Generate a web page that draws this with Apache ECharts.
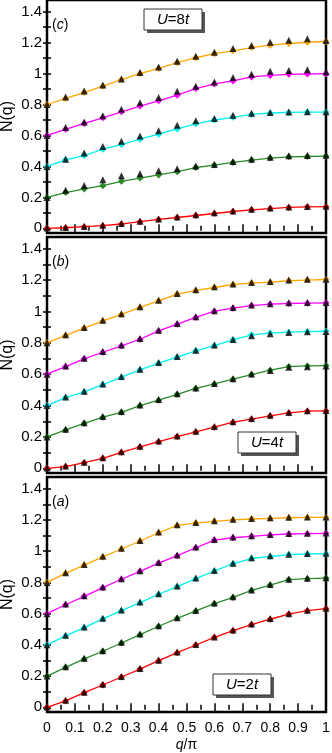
<!DOCTYPE html>
<html>
<head>
<meta charset="utf-8">
<title>N(q)</title>
<script src="https://cdn.jsdelivr.net/npm/echarts@6/dist/echarts.min.js"></script>
<style>
html,body{margin:0;padding:0;background:#fff;}
#main{width:332px;height:753px;}
</style>
</head>
<body>
<div id="main"></div>
<script>
// momentum q/pi, 16 points
var qVals = [0, 0.0667, 0.1333, 0.2, 0.2667, 0.3333, 0.4, 0.4667, 0.5333, 0.6, 0.6667, 0.7333, 0.8, 0.8667, 0.9333, 1];
var yTicks = [0, 0.1, 0.2, 0.3, 0.4, 0.5, 0.6, 0.7, 0.8, 0.9, 1, 1.1, 1.2, 1.3, 1.4];
var yLabels = [0, 0.2, 0.4, 0.6, 0.8, 1, 1.2, 1.4];

// (c) U=8t
var u8Red      = [0, 0.004, 0.011, 0.017, 0.028, 0.043, 0.058, 0.07, 0.083, 0.096, 0.109, 0.12, 0.128, 0.135, 0.139, 0.14];
var u8RedTri   = [0.002, 0.006, 0.012, 0.02, 0.031, 0.046, 0.061, 0.074, 0.088, 0.1, 0.112, 0.123, 0.131, 0.138, 0.141, 0.142];
var u8Green    = [0.2, 0.231, 0.255, 0.276, 0.304, 0.325, 0.345, 0.366, 0.393, 0.409, 0.426, 0.441, 0.454, 0.462, 0.464, 0.466];
var u8GreenTri = [0.2, 0.246, 0.277, 0.314, 0.34, 0.353, 0.372, 0.385, 0.402, 0.413, 0.432, 0.447, 0.46, 0.469, 0.47, 0.473];
var u8Cyan     = [0.4, 0.443, 0.47, 0.511, 0.541, 0.576, 0.608, 0.642, 0.675, 0.7, 0.717, 0.736, 0.745, 0.749, 0.751, 0.751];
var u8CyanTri  = [0.4, 0.447, 0.486, 0.528, 0.563, 0.597, 0.631, 0.666, 0.695, 0.71, 0.73, 0.743, 0.749, 0.751, 0.753, 0.753];
var u8Mag      = [0.6, 0.64, 0.678, 0.714, 0.753, 0.79, 0.824, 0.86, 0.903, 0.933, 0.952, 0.978, 0.988, 0.995, 0.997, 0.999];
var u8MagTri   = [0.6, 0.651, 0.687, 0.727, 0.77, 0.811, 0.845, 0.886, 0.918, 0.945, 0.974, 0.995, 1.014, 1.02, 1.025, 1.01];
var u8Orange   = [0.8, 0.839, 0.877, 0.918, 0.961, 1.0, 1.033, 1.07, 1.102, 1.128, 1.147, 1.168, 1.183, 1.194, 1.202, 1.207];
var u8OrangeTri= [0.8, 0.849, 0.888, 0.926, 0.965, 1.006, 1.042, 1.08, 1.112, 1.138, 1.162, 1.181, 1.202, 1.215, 1.224, 1.213];

// (b) U=4t
var u4Red      = [0, 0.011, 0.036, 0.064, 0.102, 0.136, 0.17, 0.202, 0.232, 0.262, 0.294, 0.313, 0.334, 0.353, 0.364, 0.366];
var u4RedTri   = [0.002, 0.014, 0.039, 0.068, 0.106, 0.14, 0.174, 0.206, 0.236, 0.266, 0.297, 0.317, 0.338, 0.356, 0.367, 0.368];
var u4Green    = [0.2, 0.245, 0.287, 0.326, 0.357, 0.4, 0.434, 0.472, 0.509, 0.538, 0.568, 0.598, 0.626, 0.649, 0.653, 0.655];
var u4GreenTri = [0.2, 0.249, 0.291, 0.331, 0.362, 0.404, 0.438, 0.476, 0.512, 0.541, 0.571, 0.601, 0.624, 0.644, 0.648, 0.652];
var u4Cyan     = [0.4, 0.451, 0.487, 0.534, 0.581, 0.628, 0.67, 0.709, 0.749, 0.783, 0.819, 0.851, 0.862, 0.868, 0.872, 0.874];
var u4CyanTri  = [0.4, 0.455, 0.492, 0.538, 0.586, 0.632, 0.674, 0.713, 0.752, 0.786, 0.822, 0.846, 0.858, 0.866, 0.87, 0.872];
var u4Mag      = [0.6, 0.649, 0.698, 0.74, 0.781, 0.823, 0.876, 0.919, 0.962, 1.002, 1.021, 1.038, 1.047, 1.051, 1.053, 1.055];
var u4MagTri   = [0.6, 0.653, 0.702, 0.745, 0.786, 0.828, 0.881, 0.923, 0.966, 1.005, 1.025, 1.042, 1.05, 1.055, 1.057, 1.057];
var u4Orange   = [0.8, 0.847, 0.894, 0.94, 0.981, 1.026, 1.068, 1.111, 1.134, 1.153, 1.172, 1.181, 1.187, 1.196, 1.2, 1.204];
var u4OrangeTri= [0.8, 0.851, 0.898, 0.944, 0.985, 1.03, 1.072, 1.115, 1.138, 1.157, 1.175, 1.185, 1.192, 1.2, 1.206, 1.205];

// (a) U=2t
var u2Red      = [0, 0.041, 0.094, 0.143, 0.194, 0.245, 0.299, 0.35, 0.399, 0.448, 0.491, 0.53, 0.564, 0.597, 0.619, 0.632];
var u2RedTri   = [0.002, 0.045, 0.097, 0.147, 0.198, 0.249, 0.302, 0.354, 0.403, 0.451, 0.495, 0.534, 0.568, 0.6, 0.622, 0.634];
var u2Green    = [0.2, 0.256, 0.31, 0.359, 0.412, 0.465, 0.519, 0.57, 0.617, 0.664, 0.704, 0.749, 0.783, 0.818, 0.824, 0.828];
var u2GreenTri = [0.2, 0.26, 0.314, 0.363, 0.416, 0.469, 0.522, 0.573, 0.62, 0.668, 0.708, 0.752, 0.786, 0.82, 0.827, 0.83];
var u2Cyan     = [0.4, 0.457, 0.51, 0.566, 0.619, 0.67, 0.724, 0.773, 0.824, 0.873, 0.92, 0.953, 0.966, 0.978, 0.982, 0.984];
var u2CyanTri  = [0.4, 0.461, 0.514, 0.57, 0.623, 0.674, 0.727, 0.777, 0.828, 0.876, 0.923, 0.958, 0.97, 0.981, 0.985, 0.987];
var u2Mag      = [0.6, 0.657, 0.711, 0.766, 0.82, 0.871, 0.924, 0.971, 1.022, 1.071, 1.086, 1.095, 1.104, 1.11, 1.112, 1.114];
var u2MagTri   = [0.6, 0.661, 0.715, 0.77, 0.824, 0.875, 0.928, 0.975, 1.026, 1.074, 1.09, 1.099, 1.107, 1.113, 1.115, 1.116];
var u2Orange   = [0.8, 0.858, 0.911, 0.963, 1.014, 1.065, 1.118, 1.165, 1.18, 1.191, 1.2, 1.206, 1.21, 1.214, 1.216, 1.216];
var u2OrangeTri= [0.8, 0.862, 0.915, 0.967, 1.018, 1.069, 1.122, 1.169, 1.184, 1.195, 1.204, 1.21, 1.214, 1.217, 1.219, 1.219];

var FONT = '"Liberation Sans", Arial, sans-serif';
var colRed = '#ff0000', colGreen = '#2a8a2a', colCyan = '#00f0f0', colMag = '#ff00ff', colOrange = '#ffa500';

// panels top -> bottom: (c) U=8t, (b) U=4t, (a) U=2t
var panels = [
  {top: 0,   height: 233, label: 'c', U: '8', box: [144, 9],
   curves: [[u8Red, u8RedTri, colRed], [u8Green, u8GreenTri, colGreen], [u8Cyan, u8CyanTri, colCyan], [u8Mag, u8MagTri, colMag], [u8Orange, u8OrangeTri, colOrange]]},
  {top: 237, height: 236, label: 'b', U: '4', box: [238, 432],
   curves: [[u4Red, u4RedTri, colRed], [u4Green, u4GreenTri, colGreen], [u4Cyan, u4CyanTri, colCyan], [u4Mag, u4MagTri, colMag], [u4Orange, u4OrangeTri, colOrange]]},
  {top: 477, height: 235, label: 'a', U: '2', box: [213, 674],
   curves: [[u2Red, u2RedTri, colRed], [u2Green, u2GreenTri, colGreen], [u2Cyan, u2CyanTri, colCyan], [u2Mag, u2MagTri, colMag], [u2Orange, u2OrangeTri, colOrange]]}
];

function pts(vals) {
  return qVals.map(function (q, i) { return [q, vals[i]]; });
}

var grids = [], xAxes = [], yAxes = [], series = [], graphics = [];

panels.forEach(function (p, g) {
  var last = (g === panels.length - 1);
  grids.push({left: 47, width: 279, top: p.top, height: p.height, show: true, containLabel: false,
              outerBoundsMode: 'none',
              borderColor: '#000', borderWidth: 2.5, backgroundColor: 'transparent'});
  // bottom + top x axes
  [ 'bottom', 'top' ].forEach(function (pos) {
    xAxes.push({
      type: 'value', gridIndex: g, position: pos, min: 0, max: 1, interval: 0.1,
      axisLine: {show: false},
      axisTick: {inside: true, length: 4, lineStyle: {color: '#000', width: 1.5}},
      minorTick: {show: true, splitNumber: 2, length: 2.5, lineStyle: {color: '#000', width: 1.5}},
      splitLine: {show: false},
      axisLabel: {show: last && pos === 'bottom', margin: 9, color: '#000', fontSize: 14, fontFamily: FONT},
      name: (last && pos === 'bottom') ? '{i|q}/π' : '',
      nameLocation: 'middle', nameGap: 26, nameMoveOverlap: false,
      nameTextStyle: {color: '#000', fontSize: 14, fontFamily: FONT, rich: {i: {fontStyle: 'italic', fontSize: 14, fontFamily: FONT}}}
    });
  });
  // left + right y axes
  [ 'left', 'right' ].forEach(function (pos) {
    yAxes.push({
      type: 'value', gridIndex: g, position: pos, min: -0.03, max: 1.475,
      axisLine: {show: false},
      axisTick: {inside: true, length: 4, customValues: yTicks, lineStyle: {color: '#000', width: 1.5}},
      splitLine: {show: false},
      axisLabel: {show: pos === 'left', customValues: yLabels, margin: 5, color: '#000', fontSize: 15, fontFamily: FONT},
      name: pos === 'left' ? 'N(q)' : '',
      nameLocation: 'middle', nameGap: 31, nameMoveOverlap: false,
      nameTextStyle: {color: '#000', fontSize: 16, fontFamily: FONT}
    });
  });

  p.curves.forEach(function (c) {
    series.push({
      type: 'line', xAxisIndex: 2 * g, yAxisIndex: 2 * g, data: pts(c[0]),
      symbol: 'diamond', symbolSize: 7, showSymbol: true,
      lineStyle: {color: c[2], width: 1.3}, itemStyle: {color: c[2]},
      animation: false, z: 2
    });
    series.push({
      type: 'scatter', xAxisIndex: 2 * g, yAxisIndex: 2 * g, data: pts(c[1]),
      symbol: 'triangle', symbolSize: 7, itemStyle: {color: '#000'},
      animation: false, z: 3
    });
  });

  // panel label (c) / (b) / (a)
  graphics.push({
    type: 'text', x: 52, y: p.top + 25, z: 10,
    style: {text: '({i|' + p.label + '})', fill: '#000', font: '14px ' + FONT, verticalAlign: 'middle',
            rich: {i: {fontStyle: 'italic', fontSize: 14, fontFamily: FONT, fill: '#000'}}}
  });
  // U = ... box with shadow
  var bx = p.box[0], by = p.box[1];
  graphics.push({type: 'rect', shape: {x: bx + 3, y: by + 3, width: 58, height: 21}, style: {fill: '#555'}, z: 10});
  graphics.push({type: 'rect', shape: {x: bx, y: by, width: 58, height: 21}, style: {fill: '#fff', stroke: '#333', lineWidth: 1}, z: 11});
  graphics.push({
    type: 'text', x: bx + 29, y: by + 11, z: 12,
    style: {text: '{i|U}=' + p.U + '{i|t}', fill: '#000', font: '15px ' + FONT, align: 'center', verticalAlign: 'middle',
            rich: {i: {fontStyle: 'italic', fontSize: 15, fontFamily: FONT, fill: '#000'}}}
  });
});

var myChart = echarts.init(document.getElementById('main'));
myChart.setOption({
  animation: false,
  backgroundColor: '#fff',
  grid: grids,
  xAxis: xAxes,
  yAxis: yAxes,
  series: series,
  graphic: graphics
});
</script>
</body>
</html>
